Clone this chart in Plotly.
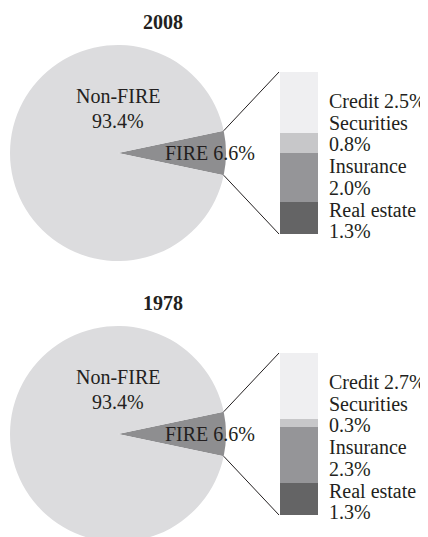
import math
import plotly.graph_objects as go

W, H = 428, 537
OFF = 8  # the page body adds an 8px margin, so the figure is drawn 8px down/right

years = ["2008", "1978"]
pie_labels = ["FIRE", "Non-FIRE"]
fire_share = [6.6, 6.6]
nonfire_share = [93.4, 93.4]

# breakdown of FIRE, listed bottom to top of the bar
sectors = ["Real estate", "Insurance", "Securities", "Credit"]
sector_2008 = [1.3, 2.0, 0.8, 2.5]
sector_1978 = [1.3, 2.3, 0.3, 2.7]
sector_values = [sector_2008, sector_1978]

pie_colors = ["#8e8e90", "#dcdcde"]
sector_colors = ["#646465", "#959598", "#c7c7c9", "#efeff1"]
ink = "#231f20"
serif = "Liberation Serif"


def px(x):
    return (x - OFF) / W


def py(y):
    return 1 - (y - OFF) / H


# window-pixel layout of each panel: pie centre/radius, bar top, title
panels = [
    dict(cx=118, cy=153, r=108, bar_top=72, title_y=21.5),
    dict(cx=118, cy=434, r=108, bar_top=353, title_y=302.5),
]
bar_left, bar_right, bar_h = 280, 318, 162
text_x = 327

fig = go.Figure()
annotations = []
shapes = []


def note(txt, x, y, anchor="center", bold=False):
    annotations.append(dict(
        text=f"<b>{txt}</b>" if bold else txt, x=px(x), y=py(y),
        xref="paper", yref="paper", xanchor=anchor, yanchor="middle",
        showarrow=False, font=dict(family=serif, size=20, color=ink)))


for i, p in enumerate(panels):
    fire, non = fire_share[i], nonfire_share[i]
    half = 360 * fire / (fire + non) / 2
    fig.add_trace(go.Pie(
        labels=pie_labels, values=[fire, non], sort=False,
        direction="clockwise", rotation=90 - half,
        marker=dict(colors=pie_colors, line=dict(width=0)),
        textinfo="none", hoverinfo="skip", showlegend=False,
        domain=dict(x=[px(p["cx"] - p["r"]), px(p["cx"] + p["r"])],
                    y=[py(p["cy"] + p["r"]), py(p["cy"] - p["r"])]),
    ))

    xa = "x" if i == 0 else "x2"
    ya = "y" if i == 0 else "y2"
    for name, v, c in zip(sectors, sector_values[i], sector_colors):
        fig.add_trace(go.Bar(
            x=[0], y=[v], width=1, name=name, marker=dict(color=c, line=dict(width=0)),
            xaxis=xa, yaxis=ya, showlegend=False, hoverinfo="skip",
        ))
    total = sum(sector_values[i])
    sfx = "" if i == 0 else "2"
    bt = p["bar_top"]
    fig.update_layout(**{
        "xaxis" + sfx: dict(domain=[px(bar_left), px(bar_right)], range=[-0.5, 0.5],
                            visible=False, fixedrange=True),
        "yaxis" + sfx: dict(domain=[py(bt + bar_h), py(bt)], range=[0, total],
                            visible=False, fixedrange=True),
    })

    # connector lines from the FIRE slice edge to the bar corners
    h = math.radians(half)
    ex = p["cx"] + p["r"] * math.cos(h)
    for sgn, yend in [(-1, bt), (1, bt + bar_h)]:
        ey = p["cy"] + sgn * p["r"] * math.sin(h)
        shapes.append(dict(type="line", xref="paper", yref="paper",
                           x0=px(ex), y0=py(ey), x1=px(bar_left - 1), y1=py(yend),
                           line=dict(color=ink, width=1)))

    note(years[i], 163, p["title_y"], bold=True)
    note(pie_labels[1], p["cx"], p["cy"] - 57)
    note(f"{non:.1f}%", p["cx"], p["cy"] - 32)
    note(f"{pie_labels[0]} {fire:.1f}%", 209.5, p["cy"])

    lines = []
    for k, (name, v) in enumerate(zip(sectors[::-1], sector_values[i][::-1])):
        if k == 0:
            lines.append(f"{name} {v:.1f}%")
        else:
            lines += [name, f"{v:.1f}%"]
    for k, t in enumerate(lines):
        note(t, text_x, bt + 29 + k * 21.7, anchor="left")

fig.update_layout(
    width=W, height=H, margin=dict(l=0, r=0, t=0, b=0),
    paper_bgcolor="white", plot_bgcolor="white",
    barmode="stack", bargap=0, showlegend=False,
    annotations=annotations, shapes=shapes,
)

fig.write_html("out.html")
